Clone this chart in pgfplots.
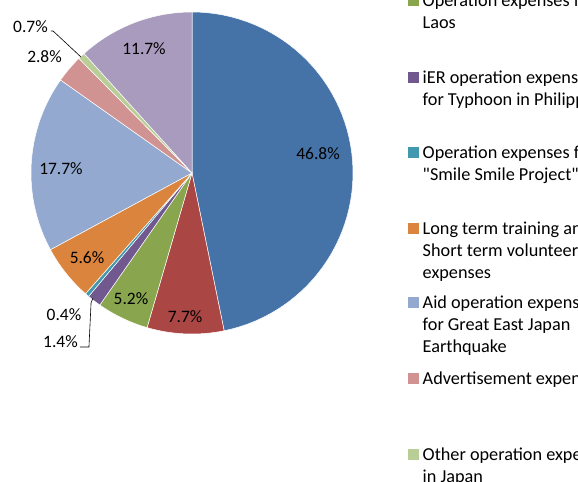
\documentclass[border=0pt]{standalone}
\usepackage{fontspec}
\setmainfont{Carlito}[Ligatures=TeXOff]
\usepackage{pgfplots}
\pgfplotsset{compat=1.18}
\definecolor{c1}{HTML}{4572A7}
\definecolor{c2}{HTML}{AA4643}
\definecolor{c3}{HTML}{89A54E}
\definecolor{c4}{HTML}{71588F}
\definecolor{c5}{HTML}{4198AF}
\definecolor{c6}{HTML}{DB843D}
\definecolor{c7}{HTML}{93A9CF}
\definecolor{c8}{HTML}{D19392}
\definecolor{c9}{HTML}{B9CD96}
\definecolor{c10}{HTML}{A99BBD}
% #1 = cumulative share before the slice, #2 = share (percent), #3 = colour
\newcommand\slice[3]{%
  \addplot[fill=#3, draw=white, line width=0.5pt, domain={90-3.6*(#1+#2)}:{90-3.6*#1}, samples=60, variable=\t]
    ({cos(\t)},{sin(\t)}) -- (axis cs:0,0) -- cycle;}
\begin{document}
\begin{tikzpicture}
\fontsize{17.5}{21.5}\selectfont
\begin{axis}[
  scale only axis, x=161bp, y=161bp,
  xmin=-1, xmax=1, ymin=-1, ymax=1,
  hide axis, clip=false,
  at={(192bp,309bp)}, anchor=center,
  every node/.style={font=\fontsize{17.5}{21.5}\selectfont, text=black},
]
\slice{0}{46.8}{c1}
\slice{46.8}{7.7}{c2}
\slice{54.5}{5.2}{c3}
\slice{59.7}{1.4}{c4}
\slice{61.1}{0.4}{c5}
\slice{61.5}{5.6}{c6}
\slice{67.1}{17.7}{c7}
\slice{84.8}{2.8}{c8}
\slice{87.6}{0.7}{c9}
\slice{88.3}{11.7}{c10}
% leader lines
\addplot[black, line width=0.6pt, mark=none] coordinates {(-0.876,0.882) (-0.863,0.882) (-0.689,0.720)};
\addplot[black, line width=0.6pt, mark=none] coordinates {(-0.696,-1.081) (-0.640,-1.081) (-0.627,-0.807) (-0.615,-0.776)};
% data labels
\node at (axis cs:0.783,0.118) {46.8\%};
\node at (axis cs:-0.043,-0.894) {7.7\%};
\node at (axis cs:-0.379,-0.783) {5.2\%};
\node at (axis cs:-0.652,-0.528) {5.6\%};
\node at (axis cs:-0.814,0.025) {17.7\%};
\node at (axis cs:-0.298,0.770) {11.7\%};
\node at (axis cs:-1.003,0.907) {0.7\%};
\node at (axis cs:-0.916,0.720) {2.8\%};
\node at (axis cs:-0.795,-0.882) {0.4\%};
\node at (axis cs:-0.817,-1.050) {1.4\%};
\end{axis}
% legend (clipped by the page edge, as in the reference)
\def\lgd#1#2#3{% #1 = y of first line centre (image px from top), #2 colour, #3 lines
  \fill[#2] (407.5bp,{(482-#1-5.5)*1bp}) rectangle ++(11bp,11bp);
  \foreach \ln [count=\i from 0] in {#3} {
    \node[anchor=base west, inner sep=0pt, text=black, font=\fontsize{18.3}{21.6}\selectfont] at (422.5bp,{(482-#1-5.9-21.8*\i)*1bp}) {\ln};
  }}
\lgd{-150}{c1}{Operation expenses for,Cambodia}
\lgd{-74}{c2}{Operation expenses for,Thailand}
\lgd{1}{c3}{Operation expenses for,Laos}
\lgd{78}{c4}{iER operation expenses,for Typhoon in Philippines}
\lgd{153}{c5}{Operation expenses for,"Smile Smile Project"}
\lgd{229}{c6}{Long term training and,Short term volunteer,expenses}
\lgd{303}{c7}{Aid operation expenses,for Great East Japan,Earthquake}
\lgd{379}{c8}{Advertisement expenses}
\lgd{455}{c9}{Other operation expenses,in Japan}
\lgd{531}{c10}{Administrative expenses}
\pgfresetboundingbox
\path (0,0) rectangle (578bp,482bp);
\end{tikzpicture}
\end{document}
